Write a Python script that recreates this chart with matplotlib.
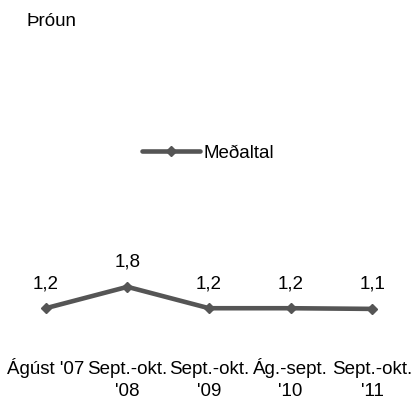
import matplotlib
matplotlib.use("Agg")
import matplotlib.pyplot as plt

# === Gögn ===
categories = ["Ágúst '07", "Sept.-okt.\n'08", "Sept.-okt.\n'09", "Ág.-sept.\n'10", "Sept.-okt.\n'11"]
medaltal = [1.16, 1.8, 1.16, 1.16, 1.14]
series_name = "Meðaltal"
title = "Þróun"

plt.rcParams["font.family"] = ["Liberation Sans", "DejaVu Sans"]
FS = 13.5

W, H = 414, 401
fig = plt.figure(figsize=(W / 100, H / 100), dpi=100)

# ás í pixlum: vinstri 5, hægri 413, botn 347 (gildi 0), toppur 230
ax = fig.add_axes([5 / W, 1 - 347 / H, 408 / W, 117 / H])
line_color = "#555555"
x = list(range(len(categories)))
ax.plot(x, medaltal, color=line_color, linewidth=3.3, marker="D", markersize=5,
        label=series_name, solid_capstyle="round")
ax.set_xlim(-0.5, len(categories) - 0.5)
ax.set_ylim(0, 3.5)

for xi, v in zip(x, medaltal):
    ax.annotate(f"{v:.1f}".replace(".", ","), (xi, v), xytext=(0, 20), textcoords="offset pixels",
                ha="center", va="baseline", fontsize=FS)

# flokkaheiti: hver lína sett á sína grunnlínu
ax.set_xticks([])
ax.set_yticks([])
for xi, lab in zip(x, categories):
    for k, part in enumerate(lab.split("\n")):
        ax.annotate(part, (xi, 0), xycoords=("data", "axes fraction"), xytext=(0, -27 - 22 * k),
                    textcoords="offset pixels", ha="center", va="baseline",
                    fontsize=FS, annotation_clip=False)

for s in ax.spines.values():
    s.set_visible(False)

leg = fig.legend(loc="center", bbox_to_anchor=(208 / W, 1 - 153 / H), frameon=False,
                 fontsize=FS, handlelength=3.1, handletextpad=0.15)

fig.text(27 / W, 1 - 22 / H, title, fontsize=FS, va="center", ha="left")

fig.savefig("out.png", dpi=100)
